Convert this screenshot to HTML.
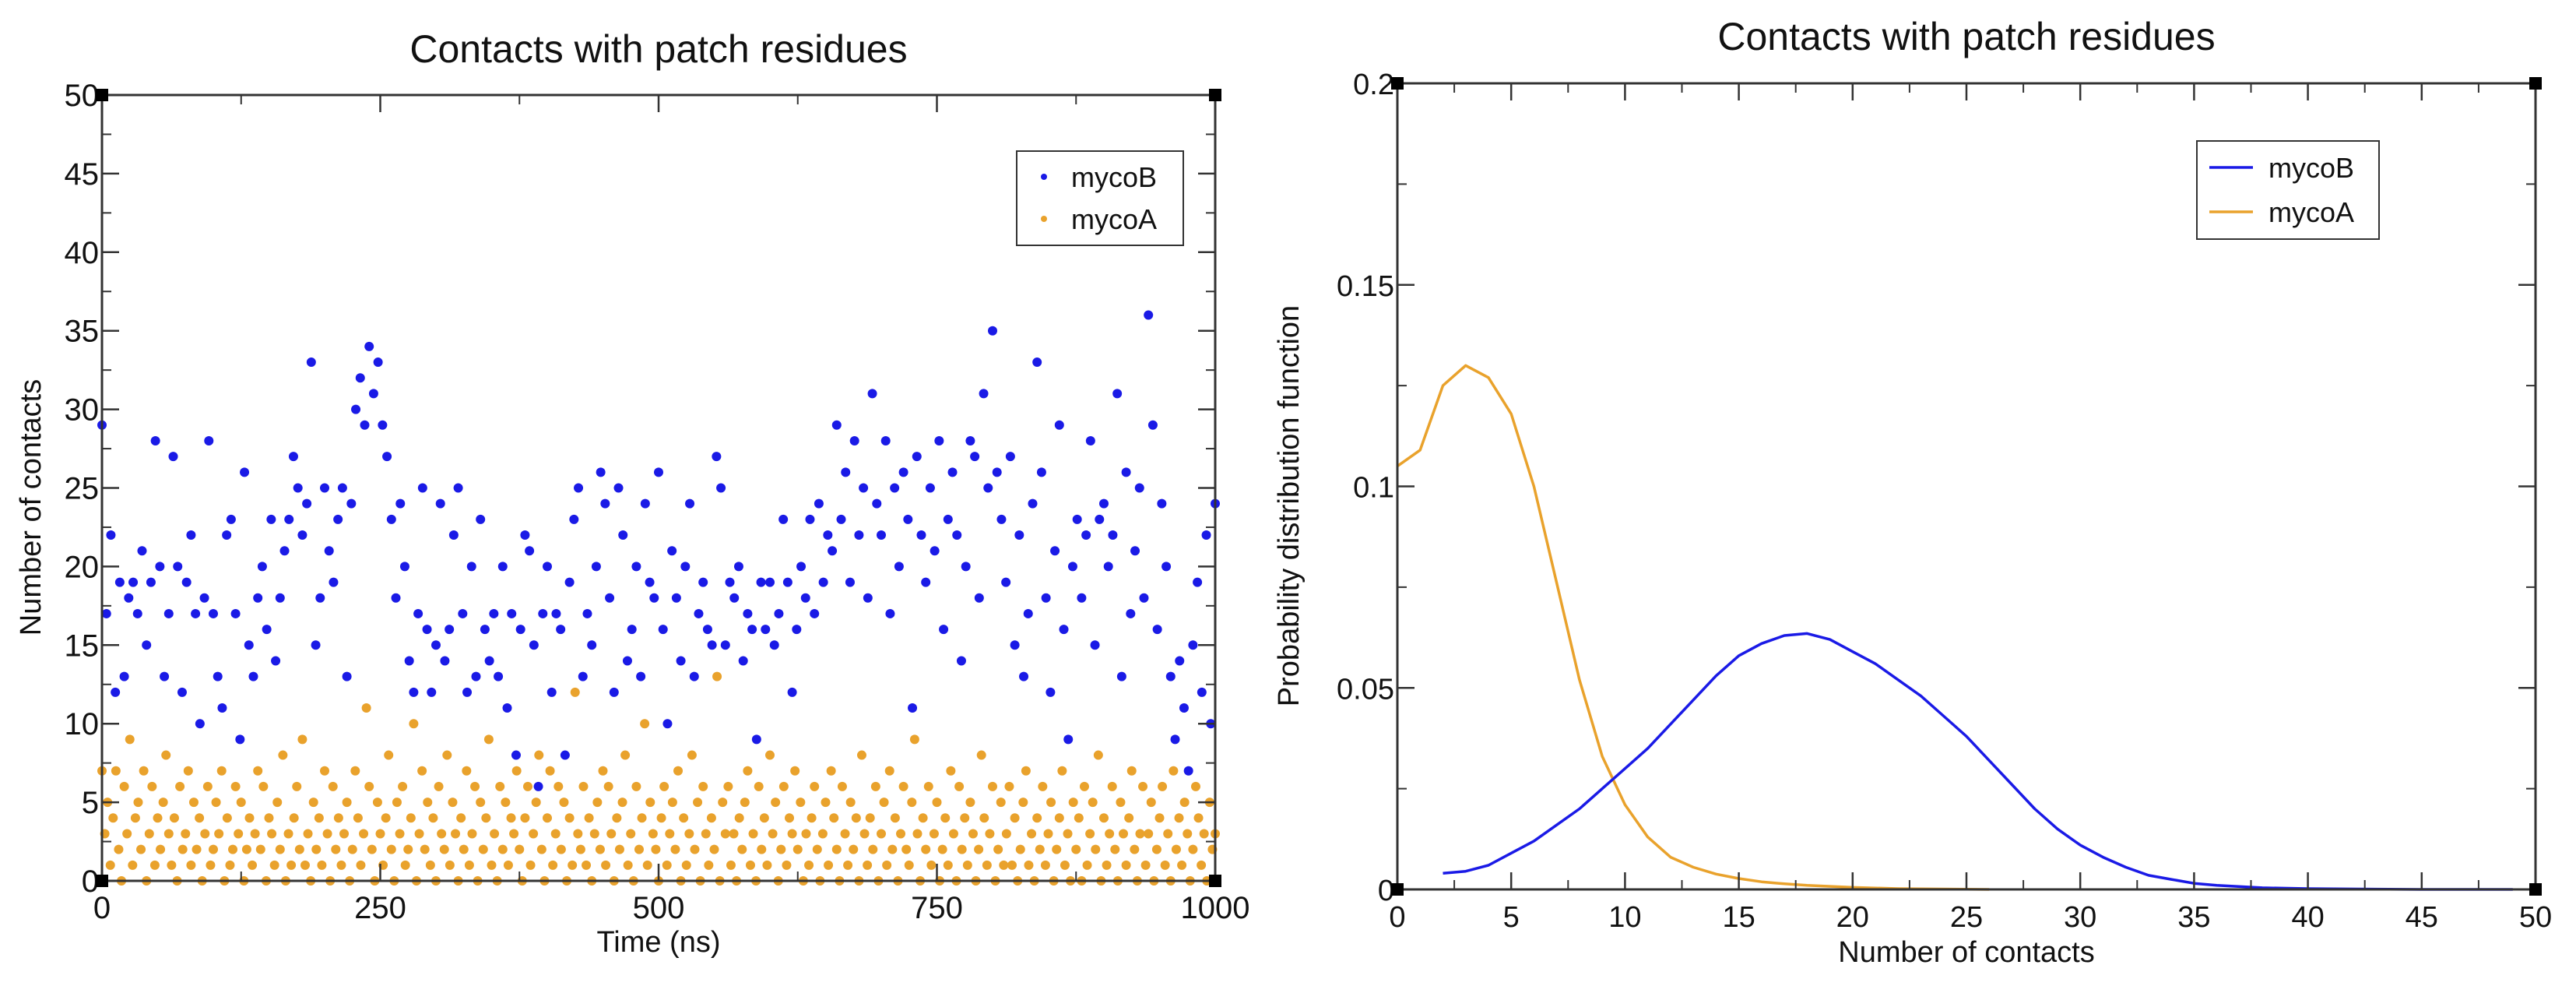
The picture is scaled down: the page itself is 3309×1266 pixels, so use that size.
<!DOCTYPE html>
<html><head><meta charset="utf-8"><style>
html,body{margin:0;padding:0;background:#fff;}
svg{display:block;font-family:"Liberation Sans",sans-serif;}
</style></head><body>
<svg id="chart" width="3309" height="1266" viewBox="0 0 3309 1266" xmlns="http://www.w3.org/2000/svg">
<rect width="3309" height="1266" fill="#fff"/>
<g id="left"></g>
<g id="right"></g>
</svg>
<script>
const NS="http://www.w3.org/2000/svg";
// ---- Left panel data (scatter) ----
const timeStepB = 4;
const mycoBValues = [
29,17,22,12,19,13,18,19,17,21,15,19,28,20,13,17,27,20,12,19,22,17,10,18,28,
17,13,11,22,23,17,9,26,15,13,18,20,16,23,14,18,21,23,27,25,22,24,33,15,18,
25,21,19,23,25,13,24,30,32,29,34,31,33,29,27,23,18,24,20,14,12,17,25,16,12,
15,24,14,16,22,25,17,12,20,13,23,16,14,17,13,20,11,17,8,16,22,21,15,6,17,
20,12,17,16,8,19,23,25,13,17,15,20,26,24,18,12,25,22,14,16,20,13,24,19,18,
26,16,10,21,18,14,20,24,13,17,19,16,15,27,25,15,19,18,20,14,17,16,9,19,16,
19,15,17,23,19,12,16,20,18,23,17,24,19,22,21,29,23,26,19,28,22,25,18,31,24,
22,28,17,25,20,26,23,11,27,22,19,25,21,28,16,23,26,22,14,20,28,27,18,31,25,
35,26,23,19,27,15,22,13,17,24,33,26,18,12,21,29,16,9,20,23,18,22,28,15,23,
24,20,22,31,13,26,17,21,25,18,36,29,16,24,20,13,9,14,11,7,15,19,12,22,10,
24];
const timeStepA = 2.5;
const mycoAValues = [
7,3,5,1,4,7,2,0,6,3,9,1,4,5,2,7,0,3,6,1,4,2,5,8,3,
1,4,0,6,2,3,7,1,5,2,4,0,3,6,1,2,5,3,7,0,4,1,2,6,3,
5,0,2,4,1,3,7,2,6,0,4,3,1,5,2,8,0,3,1,4,6,2,9,1,3,
0,5,2,4,1,7,3,0,6,2,4,1,3,5,0,2,7,4,1,3,11,6,2,0,5,
3,1,4,8,2,0,5,3,6,1,2,4,10,0,3,7,2,5,1,4,0,6,3,2,8,
1,5,3,0,4,2,7,1,3,6,0,5,2,4,9,1,3,0,6,2,5,1,4,3,7,
2,0,4,6,1,3,5,8,2,0,4,7,1,3,6,2,5,0,4,1,12,3,2,6,1,
4,0,3,5,2,7,1,6,3,0,4,2,5,8,1,3,0,6,2,4,10,1,5,3,2,
0,4,6,1,3,5,2,7,0,4,1,3,8,2,5,0,6,3,1,4,2,13,0,5,3,
6,1,3,0,4,2,5,7,1,3,0,6,2,4,1,8,3,5,0,2,6,1,4,3,7,
2,5,0,3,1,4,6,2,0,3,5,1,7,4,2,0,6,3,1,5,2,4,0,8,3,
1,4,2,6,0,3,5,1,7,2,4,0,3,6,2,1,5,9,3,0,4,2,6,1,3,
5,0,2,4,1,7,3,0,6,2,4,1,5,3,0,2,8,4,1,3,6,0,2,5,1,
3,6,1,4,0,2,5,7,1,3,0,4,2,6,1,3,5,0,2,4,7,1,3,0,5,
2,4,0,6,1,3,5,2,8,0,4,1,3,6,2,0,5,3,1,4,7,2,0,3,6,
1,3,5,0,2,4,6,1,3,0,7,2,4,1,5,3,0,2,6,4,1,3,0,5,2,
3];
const leftXTicks = [0,250,500,750,1000];
const leftYTicks = [0,5,10,15,20,25,30,35,40,45,50];
// ---- Right panel data (PDF) ----
const pdfAX = [0,1,2,3,4,5,6,7,8,9,10,11,12,13,14,15,16,17,18,20,22,24,26];
const pdfAY = [0.105,0.109,0.125,0.130,0.127,0.118,0.100,0.076,0.052,0.033,0.021,0.013,0.008,0.0055,0.0038,0.0027,0.0019,0.0014,0.0010,0.0005,0.0002,0.0001,0];
const pdfBX = [2,3,4,5,6,7,8,9,10,11,12,13,14,15,16,17,18,19,20,21,22,23,24,25,26,27,28,29,30,31,32,33,34,35,36,38,40,45,49];
const pdfBY = [0.004,0.0045,0.006,0.009,0.012,0.016,0.020,0.025,0.030,0.035,0.041,0.047,0.053,0.058,0.061,0.063,0.0635,0.062,0.059,0.056,0.052,0.048,0.043,0.038,0.032,0.026,0.020,0.015,0.011,0.008,0.0055,0.0035,0.0025,0.0015,0.001,0.0004,0.0002,0,0];
const rightXTicks = [0,5,10,15,20,25,30,35,40,45,50];
const rightYTicks = [0,0.05,0.1,0.15,0.2];
const rightYLabels = ["0","0.05","0.1","0.15","0.2"];

const BLUE="#1a1ae6", ORANGE="#e9a22c";
function mk(tag,attrs,parent,text){const e=document.createElementNS(NS,tag);for(const k in attrs)e.setAttribute(k,attrs[k]);if(text!==undefined)e.textContent=text;parent.appendChild(e);return e;}

const L={x0:131,x1:1561,y0:1131,y1:122,xmin:0,xmax:1000,ymin:0,ymax:50};
const R={x0:1795,x1:3257,y0:1142,y1:107,xmin:0,xmax:50,ymin:0,ymax:0.2};
function sx(a,v){return a.x0+(v-a.xmin)/(a.xmax-a.xmin)*(a.x1-a.x0);}
function sy(a,v){return a.y0-(v-a.ymin)/(a.ymax-a.ymin)*(a.y0-a.y1);}

function frame(g,a,xt,yt,xminor,yminor,ylabels,fs,title,xlabel,ylabel,ylabX,titleY,xlabY){
  const fr=mk('rect',{x:a.x0,y:a.y1,width:a.x1-a.x0,height:a.y0-a.y1,fill:'none',stroke:'#333',"stroke-width":3},g);
  
  
  xt.forEach(v=>{const x=sx(a,v);
    mk('line',{x1:x,y1:a.y0,x2:x,y2:a.y0-22,stroke:'#333','stroke-width':2.5},g);
    mk('line',{x1:x,y1:a.y1,x2:x,y2:a.y1+22,stroke:'#333','stroke-width':2.5},g);
    const t=mk('text',{x:x,y:a.y0+48,'font-size':fs,'text-anchor':'middle',fill:'#111'},g,String(v));
    
    
  });
  xminor.forEach(v=>{const x=sx(a,v);
    mk('line',{x1:x,y1:a.y0,x2:x,y2:a.y0-12,stroke:'#333','stroke-width':2},g);
    mk('line',{x1:x,y1:a.y1,x2:x,y2:a.y1+12,stroke:'#333','stroke-width':2},g);});
  yt.forEach((v,i)=>{const y=sy(a,v);
    mk('line',{x1:a.x0,y1:y,x2:a.x0+22,y2:y,stroke:'#333','stroke-width':2.5},g);
    mk('line',{x1:a.x1,y1:y,x2:a.x1-22,y2:y,stroke:'#333','stroke-width':2.5},g);
    const t=mk('text',{x:a.x0-4,y:y+14,'font-size':fs,'text-anchor':'end',fill:'#111'},g,ylabels[i]);
    
    
  });
  yminor.forEach(v=>{const y=sy(a,v);
    mk('line',{x1:a.x0,y1:y,x2:a.x0+12,y2:y,stroke:'#333','stroke-width':2},g);
    mk('line',{x1:a.x1,y1:y,x2:a.x1-12,y2:y,stroke:'#333','stroke-width':2},g);});
  [[a.x0,a.y0],[a.x1,a.y0],[a.x0,a.y1],[a.x1,a.y1]].forEach(p=>mk('rect',{x:p[0]-8,y:p[1]-8,width:16,height:16,fill:'#000'},g));
  const tt=mk('text',{x:(a.x0+a.x1)/2,y:titleY,'font-size':50,'text-anchor':'middle',fill:'#111'},g,title);
  
  
  const xl=mk('text',{x:(a.x0+a.x1)/2,y:xlabY,'font-size':38,'text-anchor':'middle',fill:'#111'},g,xlabel);
  
  
  const cy=(a.y0+a.y1)/2+25;
  const yl=mk('text',{x:ylabX,y:cy,'font-size':38,'text-anchor':'middle',fill:'#111',transform:`rotate(-90 ${ylabX} ${cy})`},g,ylabel);
  
  
}

const gl=document.getElementById('left');
const pts=mk('g',{},gl);


mycoBValues.forEach((v,i)=>{const c=mk('circle',{cx:sx(L,i*timeStepB),cy:sy(L,v),r:6,fill:BLUE},pts);
  
  });
mycoAValues.forEach((v,i)=>{const c=mk('circle',{cx:sx(L,i*timeStepA),cy:sy(L,v),r:6,fill:ORANGE},pts);
  
  });
frame(gl,L,leftXTicks,leftYTicks,[125,375,625,875],[2.5,7.5,12.5,17.5,22.5,27.5,32.5,37.5,42.5,47.5],leftYTicks.map(String),40,
  'Contacts with patch residues','Time (ns)','Number of contacts',52,80,1222);
const lg=mk('g',{},gl);


mk('rect',{x:1306,y:194,width:214,height:121,fill:'#fff',stroke:'#333','stroke-width':2},lg);
mk('circle',{cx:1341,cy:227,r:4,fill:BLUE},lg);
mk('circle',{cx:1341,cy:281,r:4,fill:ORANGE},lg);
const lt1=mk('text',{x:1376,y:240,'font-size':36,fill:'#111'},lg,'mycoB');


const lt2=mk('text',{x:1376,y:294,'font-size':36,fill:'#111'},lg,'mycoA');



const gr=document.getElementById('right');
function line(xs,ys,col,name){const d=xs.map((x,i)=>(i?'L':'M')+sx(R,x).toFixed(1)+' '+sy(R,ys[i]).toFixed(1)).join(' ');
  const p=mk('path',{d:d,fill:'none',stroke:col,'stroke-width':3.5,'stroke-linejoin':'round'},gr);
  
  }
line(pdfAX,pdfAY,ORANGE,'mycoA-line');
line(pdfBX,pdfBY,BLUE,'mycoB-line');
const rxm=[];for(let v=2.5;v<50;v+=5)rxm.push(v);
frame(gr,R,rightXTicks,rightYTicks,rxm,[0.025,0.075,0.125,0.175],rightYLabels,38,
  'Contacts with patch residues','Number of contacts','Probability distribution function',1668,64,1235);
const rg=mk('g',{},gr);


mk('rect',{x:2822,y:181,width:234,height:126,fill:'#fff',stroke:'#333','stroke-width':2},rg);
mk('line',{x1:2838,y1:215,x2:2894,y2:215,stroke:BLUE,'stroke-width':3.5},rg);
mk('line',{x1:2838,y1:272,x2:2894,y2:272,stroke:ORANGE,'stroke-width':3.5},rg);
const r1=mk('text',{x:2914,y:228,'font-size':36,fill:'#111'},rg,'mycoB');


const r2=mk('text',{x:2914,y:285,'font-size':36,fill:'#111'},rg,'mycoA');


</script>
</body></html>
